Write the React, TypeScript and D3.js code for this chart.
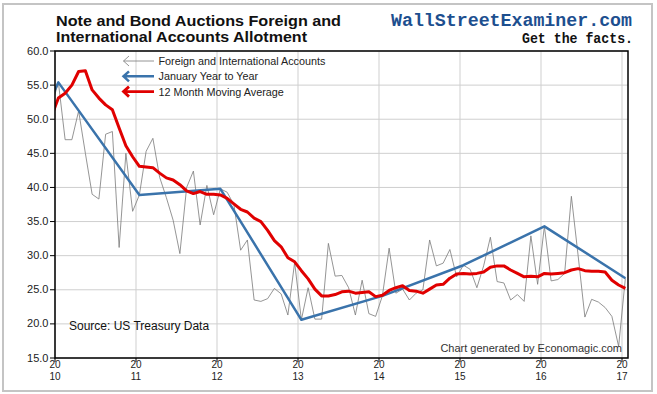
import React from 'react';
import * as d3 from 'd3';

// monthly series, Dec 2009 .. Jan 2017
const seriesStart = 2009 + 11 / 12; // December 2009
const foreignAccounts = [
    52.0,
    55.4, 47.0, 47.0, 51.2, 45.0, 39.0, 38.3, 47.8, 48.2, 31.2, 45.0, 36.5,
    38.9, 45.3, 47.2, 41.5, 38.5, 35.2, 30.3, 40.0, 42.4, 34.5, 40.3, 36.0,
    39.8, 39.3, 37.5, 30.8, 32.3, 23.5, 23.3, 23.7, 25.2, 24.4, 21.3, 29.0,
    20.6, 25.3, 20.7, 20.7, 31.8, 27.0, 27.1, 25.3, 21.3, 26.4, 21.5, 21.1,
    24.1, 31.1, 24.5, 25.1, 23.5, 24.5, 25.0, 32.3, 28.5, 28.9, 30.9, 26.9,
    28.6, 28.0, 25.3, 28.5, 32.7, 26.2, 26.0, 23.5, 24.3, 23.3, 32.9, 25.8,
    34.3, 26.3, 26.5, 27.4, 38.7, 30.0, 21.0, 23.6, 23.2, 22.4, 21.1, 16.7,
    26.7,
];
const movingAverage12 = [
    50.5,
    53.1, 53.8, 55.0, 57.0, 57.1, 54.3, 53.1, 52.1, 51.4, 48.7, 46.1, 44.5,
    43.1, 43.0, 42.9, 42.1, 41.4, 41.1, 40.4, 39.5, 39.1, 39.4, 39.0, 39.0,
    38.9, 38.4, 37.6, 36.8, 36.4, 35.5, 35.0, 33.7, 32.2, 31.3, 29.7, 29.1,
    27.8, 26.6, 25.1, 24.1, 24.1, 24.3, 24.7, 24.8, 24.5, 24.6, 24.7, 24.0,
    24.2, 24.9, 25.3, 25.6, 24.9, 24.8, 24.5, 25.1, 25.7, 25.8, 26.7, 27.3,
    27.4, 27.3, 27.4, 27.6, 28.3, 28.5, 28.5, 27.9, 27.4, 26.9, 27.0, 26.9,
    27.4, 27.3, 27.4, 27.5, 27.9, 28.1, 27.8, 27.7, 27.7, 27.6, 26.4, 25.7,
    25.2,
];
const januaryYears = [2009, 2010, 2011, 2012, 2013, 2014, 2015, 2016, 2017];
const januaryValues = [30.0, 55.4, 38.9, 39.8, 20.6, 24.1, 28.6, 34.3, 26.7];

const yTicks = [15, 20, 25, 30, 35, 40, 45, 50, 55, 60];
const yearTicks = [2010, 2011, 2012, 2013, 2014, 2015, 2016, 2017];
const legendLabels = ['Foreign and International Accounts', 'January Year to Year', '12 Month Moving Average'];

const W = 657;
const H = 394;
const plot = { left: 55, right: 628, top: 51, bottom: 358 };
const font = "Arial, 'Liberation Sans', sans-serif";
const mono = "'Liberation Mono', 'DejaVu Sans Mono', monospace";

const GRAY = '#7a7a7a';
const BLUE = '#3a73ab';
const RED = '#e00000';

type Pt = { t: number; v: number };

export default function App() {
    const x = d3.scaleLinear().domain([2010, 2017.074]).range([plot.left, plot.right]);
    const y = d3.scaleLinear().domain([15, 60]).range([plot.bottom, plot.top]);

    // points sit mid-month
    const monthly = (vals: number[]): Pt[] =>
        vals.map((v, i) => ({ t: seriesStart + (i + 0.5) / 12, v }));

    const line = d3.line<Pt>().x(d => x(d.t)).y(d => y(d.v));

    const grayPts = monthly(foreignAccounts);
    const redPts = monthly(movingAverage12);
    const bluePts = januaryYears.map((yr, i) => ({ t: yr + 0.5 / 12, v: januaryValues[i] }));

    const legendColors = [GRAY, BLUE, RED];
    const legendWidths = [0.8, 2.5, 2.8];

    return (
        <svg width={W} height={H} style={{ position: 'absolute', left: 0, top: 0, background: '#fff' }}>
            <rect x={3} y={4} width={649} height={387} fill="#fff" stroke="#c4c4c4" strokeWidth={2} />

            {/* titles */}
            <text x={56} y={25.6} fontFamily={font} fontWeight="bold" fontSize={15.4} fill="#111"
                textLength={285} lengthAdjust="spacingAndGlyphs">
                Note and Bond Auctions Foreign and
            </text>
            <text x={56} y={42.4} fontFamily={font} fontWeight="bold" fontSize={15.4} fill="#111"
                textLength={251} lengthAdjust="spacingAndGlyphs">
                International Accounts Allotment
            </text>
            <text x={391} y={26} fontFamily={mono} fontWeight="bold"
                fontSize={19} fill="#1d4f8f" textLength={241} lengthAdjust="spacingAndGlyphs">
                WallStreetExaminer.com
            </text>
            <text x={522} y={42.5} fontFamily={mono} fontWeight="bold"
                fontSize={15} fill="#111" textLength={111} lengthAdjust="spacingAndGlyphs">
                Get the facts.
            </text>

            <defs>
                <clipPath id="plotClip">
                    <rect x={plot.left} y={plot.top} width={plot.right - plot.left} height={plot.bottom - plot.top} />
                </clipPath>
            </defs>

            {/* grid */}
            {yTicks.map(t => (
                <line key={'gy' + t} x1={plot.left} x2={plot.right} y1={y(t)} y2={y(t)} stroke="#cfcfcf" strokeWidth={1} />
            ))}
            {yearTicks.map(t => (
                <line key={'gx' + t} x1={x(t)} x2={x(t)} y1={plot.top} y2={plot.bottom} stroke="#cfcfcf" strokeWidth={1} />
            ))}

            {/* legend */}
            {legendLabels.map((lab, i) => {
                const ly = 61 + i * 15.3;
                const sw = legendWidths[i];
                return (
                    <g key={lab}>
                        <path d={`M129,${ly - 5} L123.5,${ly} L129,${ly + 5} M123.5,${ly} L154,${ly}`}
                            fill="none" stroke={legendColors[i]} strokeWidth={sw} />
                        <text x={158.5} y={ly + 4} fontFamily={font} fontSize={10.8} fill="#222">{lab}</text>
                    </g>
                );
            })}

            {/* series */}
            <g clipPath="url(#plotClip)">
                <path d={line(grayPts) ?? ''} fill="none" stroke={GRAY} strokeWidth={0.8} />
                <path d={line(bluePts) ?? ''} fill="none" stroke={BLUE} strokeWidth={2.5} strokeLinejoin="round" />
                <path d={line(redPts) ?? ''} fill="none" stroke={RED} strokeWidth={3} strokeLinejoin="round" />
            </g>

            <text x={69} y={330} fontFamily={font} fontSize={12} fill="#111">Source: US Treasury Data</text>
            <text x={622} y={352} textAnchor="end" fontFamily={font} fontSize={11} fill="#333">
                Chart generated by Economagic.com
            </text>

            {/* frame */}
            <rect x={plot.left} y={plot.top} width={plot.right - plot.left} height={plot.bottom - plot.top}
                fill="none" stroke="#000" strokeWidth={1.5} />

            {/* y axis */}
            {yTicks.map(t => (
                <g key={'yt' + t}>
                    <line x1={plot.left - 5} x2={plot.left} y1={y(t)} y2={y(t)} stroke="#000" strokeWidth={1} />
                    <text x={48.5} y={y(t) + 3.5} textAnchor="end" fontFamily={font} fontSize={11} fill="#222">
                        {t.toFixed(1)}
                    </text>
                </g>
            ))}

            {/* x axis: year split over two lines */}
            {yearTicks.map(t => (
                <g key={'xt' + t}>
                    <line x1={x(t)} x2={x(t)} y1={plot.bottom} y2={plot.bottom + 4} stroke="#000" strokeWidth={1} />
                    <text textAnchor="middle" fontFamily={font} fontSize={10} fill="#222">
                        <tspan x={x(t)} y={368.2}>{String(t).slice(0, 2)}</tspan>
                        <tspan x={x(t)} y={379.6}>{String(t).slice(2)}</tspan>
                    </text>
                </g>
            ))}
        </svg>
    );
}
